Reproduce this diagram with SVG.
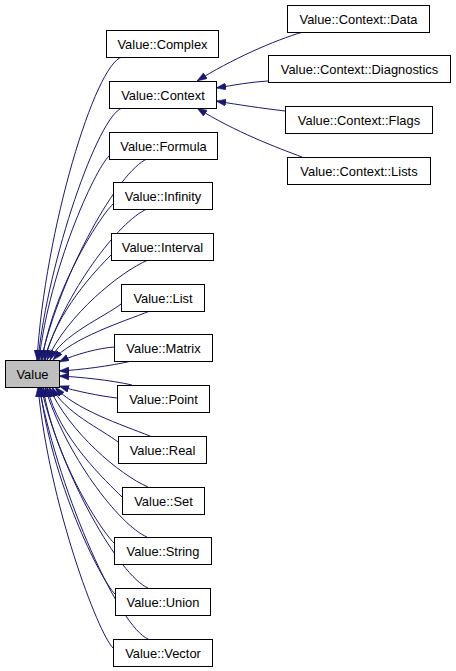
<svg xmlns="http://www.w3.org/2000/svg" width="456" height="671" viewBox="0 0 456 671">
<style>
.n rect{fill:#fff;stroke:#000;stroke-width:1}
.n.root rect{fill:#bfbfbf}
.n text{font-family:"Liberation Sans",Arial,sans-serif;font-size:12.9px;fill:#000;text-anchor:middle}
#edges path{fill:none;stroke:#191970;stroke-width:1;marker-end:url(#ah)}
</style>
<defs>
<marker id="ah" markerUnits="userSpaceOnUse" markerWidth="11" markerHeight="8" refX="10" refY="3.5" orient="auto">
<path d="M0,0 L10,3.5 L0,7 z" fill="#191970" stroke="#191970" stroke-width="0.5"/>
</marker>
</defs>
<rect width="456" height="671" fill="#fff"/>
<g id="edges">
<path d="M122,57 C95,64 45,230 37,360"/>
<path d="M122,108 C98,116 48,260 38,360"/>
<path d="M109,156 C94,171 50,268 39,360"/>
<path d="M147,159 C119,171 62,270 41,360"/>
<path d="M113,204 C98,219 53,290 42,360"/>
<path d="M147,209 C119,221 65,292 44,360"/>
<path d="M111,255 C96,270 55,313 45,360"/>
<path d="M148,260 C120,272 67,315 47,360"/>
<path d="M121,304 C106,316 61,335 50,360"/>
<path d="M150,311 C122,322 72,338 53,360"/>
<path d="M114,347 C100,348 75,354 59,362"/>
<path d="M132,361 C110,366 80,370 59,371"/>
<path d="M132,385 C110,380 80,377 59,376"/>
<path d="M117,398 C100,396 75,391 59,386"/>
<path d="M150,436 C122,425 74,409 55,387"/>
<path d="M118,442 C103,430 63,412 52,387"/>
<path d="M148,487 C120,475 69,432 49,387"/>
<path d="M122,497 C107,482 58,437 47,387"/>
<path d="M147,537 C119,525 65,454 45,387"/>
<path d="M114,543 C99,528 54,457 43,387"/>
<path d="M148,588 C120,576 62,477 41,387"/>
<path d="M115,594 C100,579 51,480 40,387"/>
<path d="M148,639 C120,627 61,500 39,387"/>
<path d="M113,648 C98,633 49,504 38,387"/>
<path d="M303,32 C275,40 230,60 197,81"/>
<path d="M268,81 C250,82 235,85 216,88"/>
<path d="M285,111 C260,108 240,105 216,101"/>
<path d="M302,157 C278,148 235,132 197,108"/>
</g>
<g id="Value" class="n root"><rect x="5.5" y="360.5" width="54" height="27"/><text x="32.5" y="378.5">Value</text></g>
<g id="Complex" class="n"><rect x="106.5" y="30.5" width="112" height="27"/><text x="162.5" y="48.5">Value::Complex</text></g>
<g id="Context" class="n"><rect x="109.5" y="81.5" width="107" height="27"/><text x="163" y="99.5">Value::Context</text></g>
<g id="Formula" class="n"><rect x="109.5" y="132.5" width="108" height="27"/><text x="163.5" y="150.5">Value::Formula</text></g>
<g id="Infinity" class="n"><rect x="113.5" y="182.5" width="99" height="27"/><text x="163" y="200.5">Value::Infinity</text></g>
<g id="Interval" class="n"><rect x="111.5" y="233.5" width="102" height="27"/><text x="162.5" y="251.5">Value::Interval</text></g>
<g id="List" class="n"><rect x="121.5" y="284.5" width="83" height="27"/><text x="163" y="302.5">Value::List</text></g>
<g id="Matrix" class="n"><rect x="114.5" y="334.5" width="98" height="27"/><text x="163.5" y="352.5">Value::Matrix</text></g>
<g id="Point" class="n"><rect x="117.5" y="385.5" width="92" height="27"/><text x="163.5" y="403.5">Value::Point</text></g>
<g id="Real" class="n"><rect x="118.5" y="436.5" width="88" height="27"/><text x="162.5" y="454.5">Value::Real</text></g>
<g id="Set" class="n"><rect x="122.5" y="487.5" width="82" height="27"/><text x="163.5" y="505.5">Value::Set</text></g>
<g id="String" class="n"><rect x="114.5" y="537.5" width="97" height="27"/><text x="163" y="555.5">Value::String</text></g>
<g id="Union" class="n"><rect x="115.5" y="588.5" width="95" height="27"/><text x="163" y="606.5">Value::Union</text></g>
<g id="Vector" class="n"><rect x="113.5" y="639.5" width="99" height="27"/><text x="163" y="657.5">Value::Vector</text></g>
<g id="ContextData" class="n"><rect x="287.5" y="5.5" width="142" height="27"/><text x="358.5" y="23.5">Value::Context::Data</text></g>
<g id="ContextDiagnostics" class="n"><rect x="268.5" y="55.5" width="182" height="27"/><text x="359.5" y="73.5">Value::Context::Diagnostics</text></g>
<g id="ContextFlags" class="n"><rect x="285.5" y="106.5" width="147" height="27"/><text x="359" y="124.5">Value::Context::Flags</text></g>
<g id="ContextLists" class="n"><rect x="287.5" y="157.5" width="143" height="27"/><text x="359" y="175.5">Value::Context::Lists</text></g>
</svg>
